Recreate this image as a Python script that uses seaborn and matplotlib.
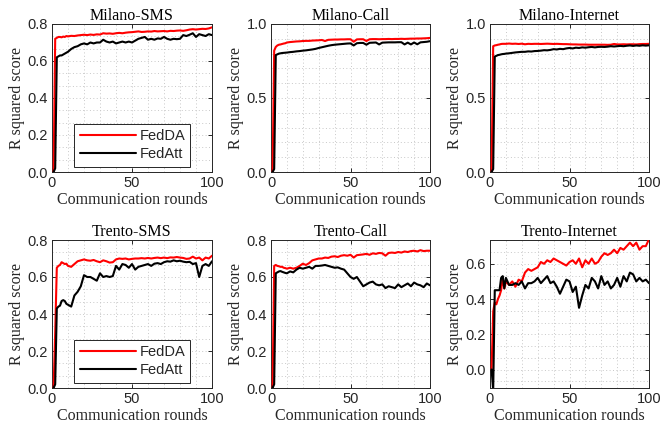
import matplotlib
matplotlib.use("Agg")
import matplotlib.pyplot as plt
from matplotlib.ticker import MultipleLocator, FormatStrFormatter
from matplotlib.lines import Line2D
import seaborn as sns
import pandas as pd

rounds = [1, 2, 3, 4, 5, 6, 7, 8, 9,
          10, 12, 14, 16, 18, 20, 22, 24, 26, 28,
          30, 32, 34, 36, 38, 40, 42, 44, 46, 48,
          50, 52, 54, 56, 58, 60, 62, 64, 66, 68,
          70, 72, 74, 76, 78, 80, 82, 84, 86, 88,
          90, 92, 94, 96, 98, 100]

titles = ["Milano-SMS", "Milano-Call", "Milano-Internet",
          "Trento-SMS", "Trento-Call", "Trento-Internet"]
methods = ["FedDA", "FedAtt"]

milano_sms_fedda = [0.00, 0.72, 0.725, 0.73, 0.73, 0.728, 0.732, 0.73, 0.735,
                    0.733, 0.736, 0.735, 0.738, 0.74, 0.742, 0.74, 0.743, 0.741, 0.744,
                    0.743, 0.75, 0.748, 0.749, 0.747, 0.75, 0.752, 0.75, 0.753, 0.755,
                    0.756, 0.758, 0.76, 0.757, 0.758, 0.76, 0.759, 0.762, 0.76, 0.761,
                    0.762, 0.76, 0.763, 0.762, 0.764, 0.765, 0.763, 0.766, 0.77, 0.772,
                    0.77, 0.772, 0.774, 0.773, 0.776, 0.782]
milano_sms_fedatt = [0.00, 0.02, 0.62, 0.625, 0.63, 0.63, 0.635, 0.64, 0.645,
                     0.65, 0.665, 0.675, 0.68, 0.69, 0.695, 0.69, 0.70, 0.695, 0.70,
                     0.70, 0.715, 0.705, 0.70, 0.705, 0.695, 0.70, 0.705, 0.70, 0.705,
                     0.70, 0.71, 0.72, 0.725, 0.73, 0.715, 0.72, 0.715, 0.722, 0.72,
                     0.73, 0.72, 0.715, 0.72, 0.718, 0.72, 0.74, 0.735, 0.742, 0.75,
                     0.73, 0.745, 0.74, 0.735, 0.745, 0.74]

milano_call_fedda = [0.00, 0.82, 0.845, 0.855, 0.86, 0.862, 0.865, 0.868, 0.87,
                     0.875, 0.878, 0.88, 0.882, 0.883, 0.885, 0.886, 0.886, 0.888, 0.889,
                     0.89, 0.892, 0.885, 0.893, 0.894, 0.895, 0.895, 0.896, 0.896, 0.897,
                     0.897, 0.88, 0.896, 0.897, 0.897, 0.885, 0.897, 0.898, 0.898, 0.897,
                     0.898, 0.898, 0.899, 0.898, 0.899, 0.899, 0.9, 0.899, 0.9, 0.901,
                     0.901, 0.902, 0.902, 0.903, 0.904, 0.906]
milano_call_fedatt = [0.00, 0.02, 0.79, 0.795, 0.80, 0.802, 0.804, 0.805, 0.806,
                      0.807, 0.81, 0.812, 0.815, 0.817, 0.82, 0.822, 0.825, 0.828, 0.832,
                      0.838, 0.843, 0.848, 0.853, 0.857, 0.86, 0.862, 0.864, 0.866, 0.868,
                      0.869, 0.855, 0.87, 0.872, 0.872, 0.86, 0.873, 0.874, 0.875, 0.862,
                      0.874, 0.875, 0.876, 0.876, 0.876, 0.877, 0.877, 0.862, 0.874, 0.862,
                      0.875, 0.863, 0.876, 0.878, 0.88, 0.884]

milano_net_fedda = [0.00, 0.85, 0.855, 0.857, 0.86, 0.862, 0.865, 0.866, 0.866,
                    0.866, 0.868, 0.866, 0.867, 0.865, 0.867, 0.863, 0.866, 0.865, 0.866,
                    0.866, 0.865, 0.866, 0.867, 0.866, 0.865, 0.866, 0.865, 0.864, 0.864,
                    0.863, 0.862, 0.862, 0.861, 0.861, 0.861, 0.86, 0.86, 0.86, 0.86,
                    0.86, 0.86, 0.859, 0.86, 0.865, 0.862, 0.862, 0.863, 0.862, 0.863,
                    0.863, 0.862, 0.864, 0.865, 0.865, 0.866]
milano_net_fedatt = [0.00, 0.02, 0.78, 0.785, 0.79, 0.792, 0.795, 0.797, 0.798,
                     0.80, 0.802, 0.805, 0.808, 0.81, 0.812, 0.812, 0.815, 0.814, 0.817,
                     0.818, 0.82, 0.823, 0.822, 0.825, 0.83, 0.828, 0.832, 0.83, 0.835,
                     0.838, 0.835, 0.84, 0.838, 0.842, 0.84, 0.843, 0.845, 0.842, 0.845,
                     0.846, 0.845, 0.847, 0.85, 0.848, 0.85, 0.852, 0.85, 0.853, 0.855,
                     0.852, 0.855, 0.853, 0.856, 0.854, 0.856]

trento_sms_fedda = [0.00, 0.30, 0.65, 0.66, 0.665, 0.68, 0.675, 0.67, 0.672,
                    0.66, 0.655, 0.67, 0.685, 0.69, 0.695, 0.69, 0.688, 0.692, 0.685,
                    0.68, 0.69, 0.685, 0.678, 0.68, 0.695, 0.70, 0.698, 0.70, 0.695,
                    0.698, 0.70, 0.70, 0.702, 0.70, 0.703, 0.70, 0.703, 0.705, 0.702,
                    0.705, 0.702, 0.706, 0.705, 0.708, 0.705, 0.703, 0.698, 0.70, 0.71,
                    0.70, 0.705, 0.69, 0.705, 0.70, 0.715]
trento_sms_fedatt = [0.00, 0.02, 0.43, 0.44, 0.445, 0.47, 0.475, 0.47, 0.455,
                     0.45, 0.44, 0.50, 0.52, 0.55, 0.61, 0.60, 0.60, 0.59, 0.58,
                     0.62, 0.60, 0.605, 0.60, 0.605, 0.66, 0.64, 0.67, 0.665, 0.65,
                     0.67, 0.64, 0.655, 0.66, 0.665, 0.67, 0.66, 0.672, 0.675, 0.67,
                     0.68, 0.685, 0.683, 0.69, 0.685, 0.688, 0.683, 0.68, 0.682, 0.67,
                     0.675, 0.60, 0.66, 0.67, 0.66, 0.685]

trento_call_fedda = [0.00, 0.66, 0.665, 0.66, 0.658, 0.655, 0.655, 0.65, 0.648,
                     0.645, 0.65, 0.645, 0.65, 0.66, 0.672, 0.665, 0.675, 0.69, 0.695,
                     0.70, 0.70, 0.705, 0.703, 0.71, 0.712, 0.708, 0.715, 0.718, 0.715,
                     0.72, 0.705, 0.718, 0.72, 0.722, 0.725, 0.72, 0.728, 0.725, 0.73,
                     0.728, 0.715, 0.73, 0.732, 0.73, 0.735, 0.732, 0.738, 0.735, 0.74,
                     0.742, 0.738, 0.745, 0.74, 0.742, 0.742]
trento_call_fedatt = [0.00, 0.02, 0.62, 0.625, 0.63, 0.632, 0.628, 0.625, 0.622,
                      0.62, 0.63, 0.625, 0.64, 0.65, 0.645, 0.65, 0.655, 0.645, 0.66,
                      0.66, 0.662, 0.665, 0.66, 0.655, 0.65, 0.652, 0.645, 0.64, 0.62,
                      0.60, 0.59, 0.60, 0.575, 0.55, 0.56, 0.57, 0.575, 0.56, 0.555,
                      0.56, 0.54, 0.55, 0.545, 0.54, 0.56, 0.545, 0.555, 0.565, 0.55,
                      0.57, 0.56, 0.555, 0.545, 0.565, 0.555]

trento_net_fedda = [0.00, 0.33, 0.38, 0.37, 0.40, 0.42, 0.45, 0.52, 0.46,
                    0.50, 0.48, 0.50, 0.47, 0.51, 0.50, 0.55, 0.57, 0.56, 0.57,
                    0.58, 0.61, 0.60, 0.62, 0.61, 0.63, 0.62, 0.61, 0.60, 0.59,
                    0.61, 0.62, 0.60, 0.63, 0.58, 0.62, 0.60, 0.63, 0.60, 0.61,
                    0.64, 0.66, 0.65, 0.66, 0.68, 0.66, 0.69, 0.68, 0.70, 0.72,
                    0.70, 0.72, 0.68, 0.70, 0.70, 0.74]
trento_net_fedatt = [0.00, -0.12, 0.45, 0.45, 0.45, 0.45, 0.52, 0.53, 0.46,
                     0.52, 0.48, 0.48, 0.49, 0.48, 0.50, 0.46, 0.49, 0.49, 0.50,
                     0.52, 0.49, 0.51, 0.53, 0.49, 0.50, 0.47, 0.43, 0.47, 0.51,
                     0.50, 0.44, 0.47, 0.35, 0.42, 0.48, 0.46, 0.52, 0.50, 0.46,
                     0.53, 0.48, 0.50, 0.46, 0.48, 0.52, 0.47, 0.53, 0.50, 0.55,
                     0.54, 0.50, 0.52, 0.50, 0.51, 0.49]

series = [
    (milano_sms_fedda, milano_sms_fedatt),
    (milano_call_fedda, milano_call_fedatt),
    (milano_net_fedda, milano_net_fedatt),
    (trento_sms_fedda, trento_sms_fedatt),
    (trento_call_fedda, trento_call_fedatt),
    (trento_net_fedda, trento_net_fedatt),
]

ylims = [(0, 0.8), (0, 1.0), (0, 1.0), (0, 0.8), (0, 0.8), (-0.105, 0.735)]
ymajor = [0.2, 0.5, 0.5, 0.2, 0.2, 0.2]
yminor = [0.2 / 3, 0.1, 0.1, 0.2 / 3, 0.2 / 3, 0.2 / 3]

sns.set_style("ticks")
plt.rcParams["font.family"] = ["Liberation Sans", "DejaVu Sans"]

W, H = 661, 436
fig = plt.figure(figsize=(W / 100, H / 100), dpi=100)

lefts = [52, 271, 490]
widths = [160, 159, 159]
tops = [24, 240]
ah = 148

serif = ["Liberation Serif", "DejaVu Serif"]
edge = "#262626"

for i in range(6):
    r, c = divmod(i, 3)
    ax = fig.add_axes([lefts[c] / W, (H - tops[r] - ah) / H, widths[c] / W, ah / H])
    df = pd.DataFrame({
        "round": rounds * 2,
        "score": list(series[i][0]) + list(series[i][1]),
        "method": [methods[0]] * len(rounds) + [methods[1]] * len(rounds),
    })
    sns.lineplot(data=df, x="round", y="score", hue="method",
                 palette={"FedDA": "#ff0000", "FedAtt": "#000000"},
                 linewidth=1.5, ax=ax, legend=False, zorder=3)
    ax.set_xlim(0, 100)
    ax.set_ylim(*ylims[i])
    ax.xaxis.set_major_locator(MultipleLocator(50))
    ax.xaxis.set_minor_locator(MultipleLocator(10))
    ax.yaxis.set_major_locator(MultipleLocator(ymajor[i]))
    ax.yaxis.set_minor_locator(MultipleLocator(yminor[i]))
    ax.yaxis.set_major_formatter(FormatStrFormatter("%.1f"))
    ax.grid(which="both", linestyle=(0, (1, 2.5)), color="#c8c8c8", linewidth=0.7, zorder=0)
    ax.set_axisbelow(True)
    ax.tick_params(which="major", direction="in", length=3, width=0.7, color=edge,
                   top=True, right=True, labelsize=10.5, pad=3, labelcolor="#262626")
    ax.tick_params(which="minor", length=0, top=True, right=True)
    for s in ax.spines.values():
        s.set_color(edge)
        s.set_linewidth(0.7)
        s.set_visible(True)
    ax.set_title(titles[i], family=serif, fontsize=11.5, pad=3, color="black")
    ax.set_xlabel("Communication rounds", family=serif, fontsize=11.5, labelpad=1, color="#262626")
    ax.set_ylabel("R squared score", family=serif, fontsize=11.5, labelpad=2, color="#262626")
    if c == 0:
        handles = [Line2D([], [], color="#ff0000", lw=1.5),
                   Line2D([], [], color="#000000", lw=1.5)]
        leg = ax.legend(handles, methods, loc="lower left",
                        bbox_to_anchor=(0.14, 0.034, 0.72, 0.29), mode="expand",
                        fontsize=10.5, handlelength=3.8, handletextpad=0.3,
                        fancybox=False, framealpha=1, edgecolor=edge,
                        borderpad=0.4, labelspacing=0.25, borderaxespad=0)
        leg.get_frame().set_linewidth(0.7)

fig.savefig("out.png", dpi=100)
